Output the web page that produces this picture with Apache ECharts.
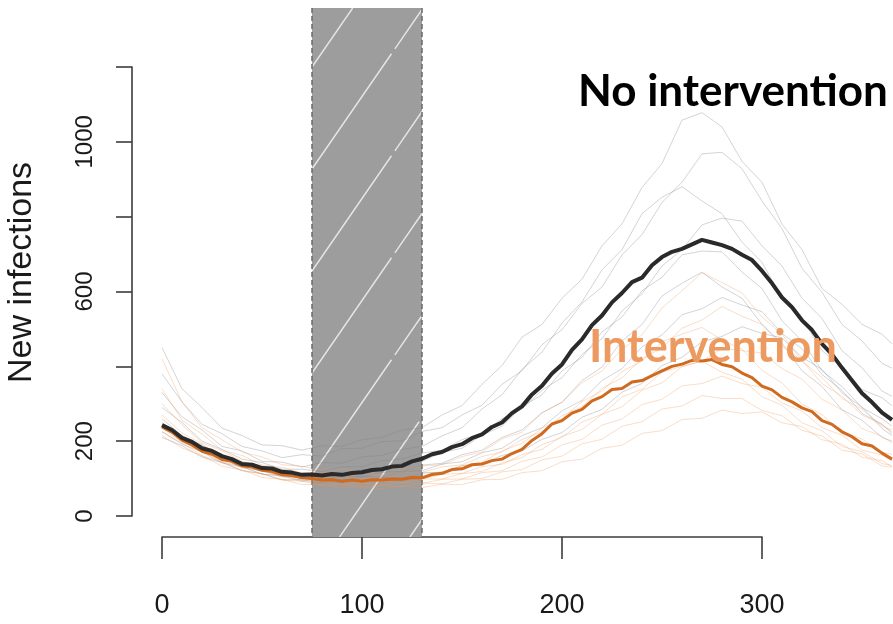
<!DOCTYPE html>
<html>
<head>
<meta charset="utf-8">
<script src="https://cdn.jsdelivr.net/npm/echarts@6/dist/echarts.min.js"></script>
<style>
html,body{margin:0;padding:0;background:#fff;}
#chart{width:893px;height:624px;}
</style>
</head>
<body>
<div id="chart"></div>
<script>
// ---- data ----
const xTicks = [0, 100, 200, 300];
const xLabels = ['0', '100', '200', '300'];
const yLabels = ['0', '200', '', '600', '', '1000', ''];
const shadeStart = 75, shadeEnd = 130;

const days5 = [0,5,10,15,20,25,30,35,40,45,50,55,60,65,70,75,80,85,90,95,100,105,110,115,120,125,130,135,140,145,150,155,160,165,170,175,180,185,190,195,200,205,210,215,220,225,230,235,240,245,250,255,260,265,270,275,280,285,290,295,300,305,310,315,320,325,330,335,340,345,350,355,360,365];

const noInterventionMean = [243,230,209,198,181,174,160,152,139,137,128,127,118,116,110,111,108,112,110,115,117,123,125,132,134,146,153,165,171,184,192,208,218,238,250,275,293,325,348,381,405,444,472,510,536,571,596,625,637,670,692,706,714,726,738,731,724,714,698,684,655,622,584,558,523,497,460,432,396,362,328,304,276,257];

const interventionMean = [238,224,203,190,173,165,151,146,134,131,122,119,111,108,102,100,96,97,93,96,93,97,96,99,98,103,102,111,114,124,126,137,139,148,152,167,178,202,220,246,255,275,285,308,319,338,341,358,362,375,388,400,406,416,414,418,405,399,382,370,347,337,317,305,289,279,255,245,225,212,193,187,168,152];

const days10 = [0,10,20,30,40,50,60,70,80,90,100,110,120,130,140,150,160,170,180,190,200,210,220,230,240,250,260,270,280,290,300,310,320,330,340,350,360,365];

const noInterventionRuns = [
  [450,340,290,235,215,190,188,176,188,186,204,210,230,236,270,295,352,402,478,512,582,633,722,781,878,942,1058,1078,1040,948,892,780,712,608,566,512,486,460],
  [380,305,245,220,186,174,156,164,160,180,181,199,201,226,236,270,296,352,388,458,498,568,612,698,752,838,892,968,972,928,842,768,662,598,512,468,408,395],
  [330,265,230,186,174,146,144,131,143,141,158,162,178,186,214,236,286,324,392,438,516,572,658,712,808,852,880,842,808,732,678,582,528,442,398,338,316,295],
  [290,250,200,178,152,143,125,125,119,131,132,148,152,168,176,204,221,260,286,336,370,432,474,548,594,668,712,778,796,788,722,668,582,528,442,396,334,320],
  [260,215,190,156,144,122,118,107,113,112,124,125,142,146,170,181,216,240,292,324,388,424,492,532,602,638,698,708,706,652,608,522,468,388,346,290,260,240],
  [240,208,172,154,129,121,105,105,97,106,105,117,119,136,141,164,176,210,230,276,304,362,398,468,512,588,622,652,612,582,512,462,388,346,284,256,210,200],
  [225,192,171,142,131,112,108,95,99,95,105,105,118,121,139,145,169,181,215,236,281,309,362,394,452,484,538,554,584,564,546,488,447,378,336,274,246,220],
  [210,188,157,143,121,113,97,97,89,96,93,103,102,115,117,134,139,162,174,205,223,264,285,331,354,402,424,466,480,506,488,476,424,392,329,291,234,215]
];

const interventionRuns = [
  [420,305,236,204,171,158,137,133,122,125,117,125,122,134,137,159,171,206,224,276,304,356,388,446,484,556,602,650,624,596,532,486,414,370,314,286,240,230],
  [340,256,219,176,162,136,130,115,116,107,113,109,118,117,131,137,159,171,205,225,268,292,341,369,421,449,502,524,560,534,512,454,416,354,320,270,244,225],
  [300,244,196,174,146,135,115,113,102,106,99,107,104,115,117,135,144,174,194,235,260,306,334,386,414,466,486,504,470,446,389,356,299,271,224,206,170,165],
  [270,222,193,158,145,122,115,101,101,92,97,92,101,99,111,114,132,138,164,178,213,231,272,292,336,356,399,414,448,442,436,394,366,312,284,234,213,195],
  [250,213,177,158,133,123,105,102,90,93,86,93,89,99,99,113,119,142,156,191,210,251,272,318,339,384,400,414,384,366,319,296,249,228,186,172,140,135],
  [235,197,173,145,133,112,107,92,92,83,87,82,90,87,98,99,116,121,146,158,190,205,243,259,298,312,348,354,374,354,344,302,281,236,216,176,163,147],
  [225,195,161,145,122,113,96,93,82,85,77,83,79,88,86,98,100,118,124,150,160,193,205,240,252,286,294,322,314,314,282,268,229,214,176,166,134,130],
  [215,182,161,133,123,103,98,84,85,75,79,73,80,76,85,84,97,98,116,121,145,152,181,189,221,228,258,261,283,274,278,249,239,204,192,157,148,132]
];

// ---- build ----
function pairs(xs, ys) { return xs.map((x, i) => [x, ys[i]]); }

const series = [];

// shaded intervention window with hatch
series.push({
  type: 'custom',
  xAxisIndex: 0, yAxisIndex: 0,
  silent: true,
  z: 1,
  clip: true,
  data: [[shadeStart, shadeEnd]],
  renderItem: function (params, api) {
    const cs = params.coordSys;
    const x0 = api.coord([api.value(0), 0])[0];
    const x1 = api.coord([api.value(1), 0])[0];
    const top = cs.y, bottom = cs.y + cs.height;
    const children = [];
    children.push({ type: 'rect', shape: { x: x0, y: top, width: x1 - x0, height: bottom - top },
      style: { fill: '#9d9d9d' } });
    const k = 1.45, step = 102, w = x1 - x0;
    for (let y0 = top + 59 - step; y0 < bottom + k * w + step; y0 += step) {
      let xa = Math.max(x0, x0 + (y0 - bottom) / k);
      let xb = Math.min(x1, x0 + (y0 - top) / k);
      if (xb - xa < 2) continue;
      children.push({ type: 'line',
        shape: { x1: xa, y1: y0 - k * (xa - x0), x2: xb, y2: y0 - k * (xb - x0) },
        style: { stroke: '#e6e6e6', lineWidth: 1.4, lineDash: [140, 6] } });
    }
    [x0, x1].forEach(function (xx) {
      children.push({ type: 'line', shape: { x1: xx, y1: top, x2: xx, y2: bottom },
        style: { stroke: '#6a6a6a', lineWidth: 1.5, lineDash: [5, 3] } });
    });
    return { type: 'group', children: children };
  }
});

noInterventionRuns.forEach(function (r) {
  series.push({ type: 'line', xAxisIndex: 0, yAxisIndex: 0, data: pairs(days10, r),
    showSymbol: false, silent: true, z: 2,
    lineStyle: { color: 'rgba(125,130,140,0.34)', width: 1 } });
});
interventionRuns.forEach(function (r) {
  series.push({ type: 'line', xAxisIndex: 0, yAxisIndex: 0, data: pairs(days10, r),
    showSymbol: false, silent: true, z: 2,
    lineStyle: { color: 'rgba(240,150,85,0.32)', width: 1 } });
});
series.push({ type: 'line', xAxisIndex: 0, yAxisIndex: 0, data: pairs(days5, interventionMean),
  showSymbol: false, silent: true, z: 3,
  lineStyle: { color: '#cf6a1e', width: 3 } });
series.push({ type: 'line', xAxisIndex: 0, yAxisIndex: 0, data: pairs(days5, noInterventionMean),
  showSymbol: false, silent: true, z: 4,
  lineStyle: { color: '#2a2a2a', width: 4 } });

const axisColor = '#3c3c3c';
const option = {
  backgroundColor: '#ffffff',
  animation: false,
  title: [
    { text: 'No intervention', left: 573, top: 65,
      textStyle: { fontFamily: 'Lato', fontWeight: 'bold', fontSize: 44, color: '#000' } },
    { text: 'Intervention', left: 584, top: 320,
      textStyle: { fontFamily: 'Lato', fontWeight: 'bold', fontSize: 45, color: '#ec9a60' } }
  ],
  grid: [
    { left: 132, right: 0, top: 8, bottom: 87, containLabel: false, outerBoundsMode: 'none' },
    { left: 162, width: 600, top: 8, bottom: 87, containLabel: false, outerBoundsMode: 'none' },
    { left: 132, width: 600, top: 67, bottom: 108, containLabel: false, outerBoundsMode: 'none' }
  ],
  xAxis: [
    { gridIndex: 0, type: 'value', min: -15, max: 365.5, show: false },
    { gridIndex: 1, type: 'value', min: 0, max: 300, interval: 100,
      axisLine: { show: true, lineStyle: { color: axisColor, width: 1.6 } },
      axisTick: { show: true, length: 22, lineStyle: { color: axisColor, width: 1.6 } },
      splitLine: { show: false },
      axisLabel: { margin: 55, fontSize: 27, color: '#1a1a1a', fontFamily: 'Liberation Sans',
        formatter: function (v) { return xLabels[xTicks.indexOf(v)]; } } },
    { gridIndex: 2, type: 'value', min: 0, max: 100, show: false }
  ],
  yAxis: [
    { gridIndex: 0, type: 'value', min: -56.1, max: 1357.7,
      axisLine: { show: false }, axisTick: { show: false }, axisLabel: { show: false },
      splitLine: { show: false },
      name: 'New infections', nameLocation: 'middle', nameGap: 93, nameRotate: 90,
      nameTextStyle: { fontSize: 34, color: '#1a1a1a', fontFamily: 'Liberation Sans' } },
    { gridIndex: 1, type: 'value', min: 0, max: 100, show: false },
    { gridIndex: 2, type: 'value', min: 0, max: 1200, interval: 200,
      axisLine: { show: true, lineStyle: { color: axisColor, width: 1.6 } },
      axisTick: { show: true, length: 16, lineStyle: { color: axisColor, width: 1.6 } },
      splitLine: { show: false },
      axisLabel: { rotate: 90, margin: 35, fontSize: 24, color: '#1a1a1a', fontFamily: 'Liberation Sans',
        formatter: function (v, i) { return yLabels[i]; } } }
  ],
  series: series
};

const chart = echarts.init(document.getElementById('chart'), null, { renderer: 'canvas' });
chart.setOption(option);
</script>
</body>
</html>
